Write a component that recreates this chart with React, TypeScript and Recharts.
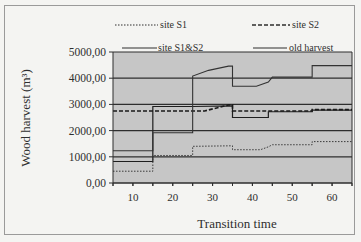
import { LineChart, Line, XAxis, YAxis, CartesianGrid, ReferenceLine } from "recharts";

const X_TICKS = [5, 10, 15, 20, 25, 30, 35, 40, 45, 50, 55, 60, 65];
const Y_TICKS = [0, 1000, 2000, 3000, 4000, 5000];

// transition time (t) vs wood harvest (v)
const siteS1 = [
  { t: 5, v: 450 }, { t: 15, v: 450 }, { t: 15, v: 1050 }, { t: 25, v: 1050 },
  { t: 25, v: 1400 }, { t: 35, v: 1420 }, { t: 35, v: 1270 }, { t: 42, v: 1270 },
  { t: 44, v: 1380 }, { t: 45, v: 1460 }, { t: 55, v: 1460 }, { t: 55, v: 1580 },
  { t: 65, v: 1580 },
];
const siteS2 = [
  { t: 5, v: 2750 }, { t: 28, v: 2750 }, { t: 34, v: 2980 }, { t: 35, v: 2980 },
  { t: 35, v: 2750 }, { t: 55, v: 2750 }, { t: 55, v: 2800 }, { t: 65, v: 2800 },
];
const siteS1S2 = [
  { t: 5, v: 1230 }, { t: 15, v: 1230 }, { t: 15, v: 1920 }, { t: 25, v: 1920 },
  { t: 25, v: 4080 }, { t: 29, v: 4300 }, { t: 34, v: 4460 }, { t: 35, v: 4460 },
  { t: 35, v: 3690 }, { t: 41, v: 3690 }, { t: 44, v: 3850 }, { t: 45, v: 4040 },
  { t: 55, v: 4040 }, { t: 55, v: 4480 }, { t: 65, v: 4480 },
];
const oldHarvest = [
  { t: 5, v: 820 }, { t: 15, v: 820 }, { t: 15, v: 2920 }, { t: 25, v: 2920 },
  { t: 35, v: 2940 }, { t: 35, v: 2500 }, { t: 44, v: 2500 }, { t: 44, v: 2720 },
  { t: 55, v: 2720 }, { t: 55, v: 2780 }, { t: 65, v: 2780 },
];

const FONT = "Liberation Serif, Times New Roman, DejaVu Serif, serif";
const INK = "#2e2e2e";

const fmtY = (v: number) => v.toFixed(2).replace(".", ",");
const fmtX = (v: number) => (v % 10 === 0 && v !== 0 ? String(v) : "");

function XTick({ x, y, payload }: any) {
  const label = fmtX(payload.value);
  return (
    <g>
      <line x1={x} y1={y - 5} x2={x} y2={y - 2} stroke={INK} />
      {label && (
        <text x={x} y={y + 13} textAnchor="middle" fill={INK} style={{ fontFamily: FONT, fontSize: 11 }}>
          {label}
        </text>
      )}
    </g>
  );
}

function YTick({ x, y, payload }: any) {
  return (
    <text x={x} y={y + 4} textAnchor="end" fill={INK} style={{ fontFamily: FONT, fontSize: 11.5 }}>
      {fmtY(payload.value)}
    </text>
  );
}

export default function App() {
  return (
    <div style={{ position: "absolute", left: 0, top: 0, width: 361, height: 242, background: "#f4f4f2", fontFamily: FONT }}>
      <div style={{ position: "absolute", left: 4, top: 5, width: 349, height: 228, border: "1px solid #9a9a9a" }} />
      <LineChart width={361} height={242} data={siteS1S2} margin={{ top: 52, right: 9, left: 0, bottom: 39 }}>
        <CartesianGrid vertical={false} stroke={INK} strokeWidth={1.2} fill="#c6c6c6" fillOpacity={1} />
        <XAxis
          dataKey="t"
          type="number"
          domain={[5, 65]}
          ticks={X_TICKS}
          interval={0}
          height={20}
          tickSize={3}
          tickMargin={2}
          stroke={INK}
          tick={<XTick />}
          allowDataOverflow
        />
        <YAxis
          dataKey="v"
          type="number"
          domain={[0, 5000]}
          ticks={Y_TICKS}
          interval={0}
          width={113}
          tickSize={4}
          tickMargin={3}
          stroke={INK}
          tick={<YTick />}
        />
        <ReferenceLine x={65} stroke={INK} strokeWidth={1} />
        <Line data={oldHarvest} dataKey="v" stroke="#1e1e1e" strokeWidth={1.2} dot={false} isAnimationActive={false} />
        <Line data={siteS2} dataKey="v" stroke="#1a1a1a" strokeWidth={1.6} strokeDasharray="4 2" dot={false} isAnimationActive={false} />
        <Line data={siteS1S2} dataKey="v" stroke="#333" strokeWidth={1.1} dot={false} isAnimationActive={false} />
        <Line data={siteS1} dataKey="v" stroke="#3a3a3a" strokeWidth={1} strokeDasharray="1.5 1.5" dot={false} isAnimationActive={false} />
      </LineChart>
      <svg width={361} height={242} style={{ position: "absolute", left: 0, top: 0, pointerEvents: "none", fontFamily: FONT }}>
        <g fontSize={10} fill={INK}>
          <line x1={115} y1={25} x2={158} y2={25} stroke={INK} strokeWidth={1} strokeDasharray="1.5 1.5" />
          <text x={160} y={28}>site S1</text>
          <line x1={252} y1={25} x2={290} y2={25} stroke={INK} strokeWidth={1.5} strokeDasharray="4 2" />
          <text x={292} y={28}>site S2</text>
          <line x1={122} y1={48} x2={157} y2={48} stroke={INK} strokeWidth={1} />
          <text x={158} y={51}>site S1&amp;S2</text>
          <line x1={253} y1={48} x2={287} y2={48} stroke={INK} strokeWidth={1.2} />
          <text x={289} y={51}>old harvest</text>
        </g>
        <text x={237} y={228} textAnchor="middle" fontSize={13} fill={INK}>Transition time</text>
        <text transform="translate(30,118) rotate(-90)" textAnchor="middle" fontSize={13} fill={INK}>
          Wood harvest (m³)
        </text>
      </svg>
    </div>
  );
}
